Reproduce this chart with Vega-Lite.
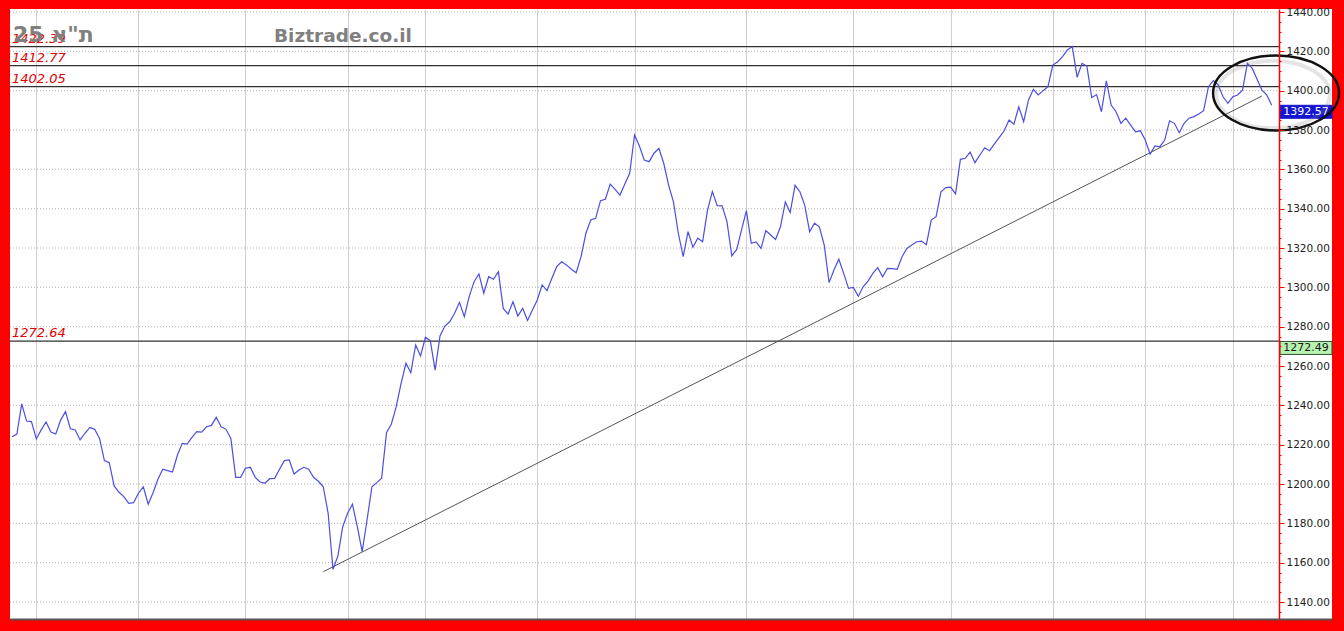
{
  "$schema": "https://vega.github.io/schema/vega-lite/v6.json",
  "width": 1322,
  "height": 610,
  "autosize": {"type": "none"},
  "padding": {"left": 10, "top": 9, "right": 12, "bottom": 12},
  "background": "#ff0000",
  "config": {"view": {"fill": "white", "stroke": null}, "font": "DejaVu Sans"},
  "resolve": {"axis": {"x": "independent", "y": "independent"}},
  "datasets": {
    "price": [
      {"i":0,"v":1224.0},{"i":1,"v":1225.4},{"i":2,"v":1240.7},{"i":3,"v":1232.0},{"i":4,"v":1231.7},{"i":5,"v":1222.9},{"i":6,"v":1227.5},{"i":7,"v":1231.5},{"i":8,"v":1226.4},{"i":9,"v":1225.4},
      {"i":10,"v":1232.5},{"i":11,"v":1236.8},{"i":12,"v":1228.1},{"i":13,"v":1227.5},{"i":14,"v":1222.4},{"i":15,"v":1225.8},{"i":16,"v":1228.8},{"i":17,"v":1227.8},{"i":18,"v":1223.2},{"i":19,"v":1211.9},
      {"i":20,"v":1210.9},{"i":21,"v":1199.0},{"i":22,"v":1195.8},{"i":23,"v":1193.6},{"i":24,"v":1190.2},{"i":25,"v":1190.5},{"i":26,"v":1195.3},{"i":27,"v":1198.6},{"i":28,"v":1189.7},{"i":29,"v":1195.6},
      {"i":30,"v":1202.4},{"i":31,"v":1207.5},{"i":32,"v":1206.8},{"i":33,"v":1206.1},{"i":34,"v":1214.6},{"i":35,"v":1220.7},{"i":36,"v":1220.3},{"i":37,"v":1223.7},{"i":38,"v":1226.6},{"i":39,"v":1226.4},
      {"i":40,"v":1229.1},{"i":41,"v":1229.8},{"i":42,"v":1233.9},{"i":43,"v":1229.1},{"i":44,"v":1227.8},{"i":45,"v":1223.2},{"i":46,"v":1203.4},{"i":47,"v":1203.4},{"i":48,"v":1208.0},{"i":49,"v":1208.5},
      {"i":50,"v":1203.4},{"i":51,"v":1201.0},{"i":52,"v":1200.4},{"i":53,"v":1202.7},{"i":54,"v":1202.9},{"i":55,"v":1207.5},{"i":56,"v":1211.9},{"i":57,"v":1212.2},{"i":58,"v":1205.1},{"i":59,"v":1207.1},
      {"i":60,"v":1208.5},{"i":61,"v":1207.5},{"i":62,"v":1203.4},{"i":63,"v":1201.4},{"i":64,"v":1198.6},{"i":65,"v":1185.1},{"i":66,"v":1156.6},{"i":67,"v":1163.4},{"i":68,"v":1178.3},{"i":69,"v":1185.1},
      {"i":70,"v":1189.7},{"i":71,"v":1178.3},{"i":72,"v":1165.6},{"i":73,"v":1181.7},{"i":74,"v":1198.6},{"i":75,"v":1200.7},{"i":76,"v":1202.9},{"i":77,"v":1226.1},{"i":78,"v":1230.5},{"i":79,"v":1239.3},
      {"i":80,"v":1251.2},{"i":81,"v":1261.4},{"i":82,"v":1256.6},{"i":83,"v":1270.7},{"i":84,"v":1265.1},{"i":85,"v":1274.6},{"i":86,"v":1272.9},{"i":87,"v":1257.9},{"i":88,"v":1275.3},{"i":89,"v":1280.3},
      {"i":90,"v":1282.5},{"i":91,"v":1286.8},{"i":92,"v":1292.4},{"i":93,"v":1285.1},{"i":94,"v":1295.3},{"i":95,"v":1302.9},{"i":96,"v":1306.8},{"i":97,"v":1297.0},{"i":98,"v":1305.4},{"i":99,"v":1304.1},
      {"i":100,"v":1308.0},{"i":101,"v":1289.3},{"i":102,"v":1286.4},{"i":103,"v":1292.7},{"i":104,"v":1285.4},{"i":105,"v":1289.3},{"i":106,"v":1283.1},{"i":107,"v":1288.5},{"i":108,"v":1293.6},{"i":109,"v":1301.2},
      {"i":110,"v":1298.3},{"i":111,"v":1304.6},{"i":112,"v":1310.5},{"i":113,"v":1313.0},{"i":114,"v":1311.4},{"i":115,"v":1309.2},{"i":116,"v":1307.4},{"i":117,"v":1315.6},{"i":118,"v":1327.5},{"i":119,"v":1334.3},
      {"i":120,"v":1335.1},{"i":121,"v":1344.1},{"i":122,"v":1344.8},{"i":123,"v":1352.5},{"i":124,"v":1349.8},{"i":125,"v":1346.9},{"i":126,"v":1352.5},{"i":127,"v":1358.0},{"i":128,"v":1377.5},{"i":129,"v":1371.9},
      {"i":130,"v":1364.7},{"i":131,"v":1363.9},{"i":132,"v":1368.2},{"i":133,"v":1370.7},{"i":134,"v":1363.1},{"i":135,"v":1352.0},{"i":136,"v":1343.5},{"i":137,"v":1327.5},{"i":138,"v":1315.6},{"i":139,"v":1328.3},
      {"i":140,"v":1320.4},{"i":141,"v":1325.0},{"i":142,"v":1323.2},{"i":143,"v":1339.3},{"i":144,"v":1348.7},{"i":145,"v":1341.5},{"i":146,"v":1341.4},{"i":147,"v":1333.4},{"i":148,"v":1316.0},{"i":149,"v":1319.3},
      {"i":150,"v":1329.2},{"i":151,"v":1339.0},{"i":152,"v":1322.4},{"i":153,"v":1323.1},{"i":154,"v":1319.8},{"i":155,"v":1328.8},{"i":156,"v":1326.6},{"i":157,"v":1324.4},{"i":158,"v":1330.8},{"i":159,"v":1343.4},
      {"i":160,"v":1338.0},{"i":161,"v":1351.9},{"i":162,"v":1348.6},{"i":163,"v":1341.7},{"i":164,"v":1328.3},{"i":165,"v":1332.6},{"i":166,"v":1330.8},{"i":167,"v":1321.5},{"i":168,"v":1302.4},{"i":169,"v":1308.8},
      {"i":170,"v":1314.3},{"i":171,"v":1307.1},{"i":172,"v":1299.5},{"i":173,"v":1300.0},{"i":174,"v":1295.5},{"i":175,"v":1300.3},{"i":176,"v":1303.2},{"i":177,"v":1307.1},{"i":178,"v":1310.0},{"i":179,"v":1305.4},
      {"i":180,"v":1309.6},{"i":181,"v":1309.5},{"i":182,"v":1309.2},{"i":183,"v":1315.6},{"i":184,"v":1319.8},{"i":185,"v":1321.5},{"i":186,"v":1323.2},{"i":187,"v":1323.5},{"i":188,"v":1321.7},{"i":189,"v":1334.2},
      {"i":190,"v":1335.9},{"i":191,"v":1348.6},{"i":192,"v":1350.7},{"i":193,"v":1350.9},{"i":194,"v":1347.5},{"i":195,"v":1365.1},{"i":196,"v":1365.6},{"i":197,"v":1368.7},{"i":198,"v":1363.4},{"i":199,"v":1367.3},
      {"i":200,"v":1371.0},{"i":201,"v":1369.5},{"i":202,"v":1372.9},{"i":203,"v":1376.3},{"i":204,"v":1379.6},{"i":205,"v":1385.1},{"i":206,"v":1383.0},{"i":207,"v":1391.8},{"i":208,"v":1384.2},{"i":209,"v":1395.3},
      {"i":210,"v":1400.7},{"i":211,"v":1397.8},{"i":212,"v":1400.0},{"i":213,"v":1402.0},{"i":214,"v":1413.0},{"i":215,"v":1414.7},{"i":216,"v":1417.3},{"i":217,"v":1420.7},{"i":218,"v":1422.4},{"i":219,"v":1406.8},
      {"i":220,"v":1413.9},{"i":221,"v":1412.5},{"i":222,"v":1396.5},{"i":223,"v":1398.0},{"i":224,"v":1389.3},{"i":225,"v":1405.0},{"i":226,"v":1392.7},{"i":227,"v":1389.3},{"i":228,"v":1383.4},{"i":229,"v":1386.0},
      {"i":230,"v":1382.5},{"i":231,"v":1379.1},{"i":232,"v":1379.6},{"i":233,"v":1374.9},{"i":234,"v":1367.8},{"i":235,"v":1371.9},{"i":236,"v":1371.5},{"i":237,"v":1374.9},{"i":238,"v":1384.7},{"i":239,"v":1383.4},
      {"i":240,"v":1378.6},{"i":241,"v":1383.4},{"i":242,"v":1386.0},{"i":243,"v":1386.8},{"i":244,"v":1388.1},{"i":245,"v":1389.8},{"i":246,"v":1402.0},{"i":247,"v":1405.1},{"i":248,"v":1402.9},{"i":249,"v":1396.9},
      {"i":250,"v":1393.6},{"i":251,"v":1396.9},{"i":252,"v":1397.8},{"i":253,"v":1400.3},{"i":254,"v":1413.9},{"i":255,"v":1411.3},{"i":256,"v":1405.8},{"i":257,"v":1400.3},{"i":258,"v":1397.8},{"i":259,"v":1392.57}
    ],
    "grid": [
      {"v":1140},{"v":1160},{"v":1180},{"v":1200},{"v":1220},{"v":1240},{"v":1260},{"v":1280},
      {"v":1300},{"v":1320},{"v":1340},{"v":1360},{"v":1380},{"v":1400},{"v":1420},{"v":1440}
    ],
    "levels": [
      {"v":1422.39,"label":"1422.39"},
      {"v":1412.77,"label":"1412.77"},
      {"v":1402.05,"label":"1402.05"},
      {"v":1272.64,"label":"1272.64"}
    ],
    "trend": [
      {"i":64,"v":1155.4},
      {"i":257,"v":1397.3}
    ],
    "boxes": [
      {"v":1392.57,"label":"1392.57","kind":"last"},
      {"v":1272.49,"label":"1272.49","kind":"ref"}
    ]
  },
  "layer": [
    {
      "data": {"name": "grid"},
      "mark": {"type": "rule", "color": "#b4b4b4", "strokeWidth": 1, "strokeDash": [1, 2]},
      "encoding": {
        "x": {"datum": -0.411, "type": "quantitative", "axis": null, "scale": {"domain": [-0.411, 271.4], "nice": false, "zero": false}},
        "x2": {"datum": 260.5},
        "y": {"field": "v", "type": "quantitative", "axis": null, "scale": {"domain": [1131.36, 1441.53], "nice": false, "zero": false}}
      }
    },
    {
      "data": {"name": "levels"},
      "mark": {"type": "rule", "color": "#303030", "strokeWidth": 1.2},
      "encoding": {
        "x": {"datum": -0.411, "type": "quantitative", "axis": null},
        "x2": {"datum": 260.5},
        "y": {"field": "v", "type": "quantitative", "axis": null}
      }
    },
    {
      "data": {"name": "trend"},
      "mark": {"type": "line", "color": "#555555", "strokeWidth": 1},
      "encoding": {
        "x": {"field": "i", "type": "quantitative", "axis": null},
        "y": {"field": "v", "type": "quantitative", "axis": null}
      }
    },
    {
      "data": {"name": "price"},
      "mark": {"type": "line", "color": "#4d4de4", "strokeWidth": 1.2},
      "encoding": {
        "x": {
          "field": "i", "type": "quantitative", "title": null,
          "scale": {"domain": [-0.411, 271.4], "nice": false, "zero": false},
          "axis": {
            "orient": "bottom", "title": null,
            "values": [5, 26, 48, 69, 85, 108, 128, 151, 173, 193, 214, 233, 251],
            "grid": true, "gridColor": "#cfcfcf", "gridWidth": 1,
            "labels": false, "ticks": false,
            "domain": true, "domainColor": "#555555", "domainWidth": 2
          }
        },
        "y": {
          "field": "v", "type": "quantitative", "title": null,
          "scale": {"domain": [1131.36, 1441.53], "nice": false, "zero": false},
          "axis": {
            "orient": "right", "offset": -53, "title": null, "grid": false,
            "values": [1135,1140,1145,1150,1155,1160,1165,1170,1175,1180,1185,1190,1195,1200,1205,1210,1215,1220,1225,1230,1235,1240,1245,1250,1255,1260,1265,1270,1275,1280,1285,1290,1295,1300,1305,1310,1315,1320,1325,1330,1335,1340,1345,1350,1355,1360,1365,1370,1375,1380,1385,1390,1395,1400,1405,1410,1415,1420,1425,1430,1435,1440],
            "domainColor": "#ff0000", "domainWidth": 1.5,
            "tickColor": "#ff0000", "tickWidth": 1,
            "tickSize": {"condition": {"test": "datum.value % 20 === 0", "value": 5}, "value": 2},
            "labelExpr": "datum.value % 20 === 0 ? format(datum.value, '.2f') : ''",
            "labelFont": "DejaVu Sans", "labelFontSize": 10.5, "labelColor": "#222222",
            "labelPadding": 2, "labelOverlap": false, "labelFlush": false,
            "labelBaseline": "middle", "zindex": 1
          }
        }
      }
    },
    {
      "data": {"name": "levels"},
      "mark": {"type": "text", "align": "left", "baseline": "alphabetic", "dy": -4, "fontSize": 13, "fontStyle": "italic", "color": "#e00000", "font": "DejaVu Sans"},
      "encoding": {
        "x": {"datum": 0, "type": "quantitative", "axis": null},
        "y": {"field": "v", "type": "quantitative", "axis": null},
        "text": {"field": "label"}
      }
    },
    {
      "data": {"values": [{"t": "ת\"א 25"}]},
      "mark": {"type": "text", "align": "left", "baseline": "alphabetic", "fontSize": 22, "fontWeight": "bold", "color": "#808080", "font": "DejaVu Sans"},
      "encoding": {
        "x": {"datum": 0.2, "type": "quantitative", "axis": null},
        "y": {"datum": 1424.75, "type": "quantitative", "axis": null},
        "text": {"field": "t"}
      }
    },
    {
      "data": {"values": [{"t": "Biztrade.co.il"}]},
      "mark": {"type": "text", "align": "left", "baseline": "alphabetic", "fontSize": 18.5, "fontWeight": "bold", "color": "#808080", "font": "DejaVu Sans"},
      "encoding": {
        "x": {"datum": 53.87, "type": "quantitative", "axis": null},
        "y": {"datum": 1424.75, "type": "quantitative", "axis": null},
        "text": {"field": "t"}
      }
    },
    {
      "data": {"name": "boxes"},
      "mark": {"type": "point", "shape": "M -1 0 L 1 0 L 1 0.5 L -1 0.5 Z", "size": 2704, "filled": true, "opacity": 1, "strokeWidth": 1},
      "encoding": {
        "x": {"datum": 266.05, "type": "quantitative", "axis": null},
        "y": {"field": "v", "type": "quantitative", "axis": null},
        "fill": {"field": "kind", "type": "nominal", "scale": {"domain": ["last", "ref"], "range": ["#1414d2", "#b6f2b0"]}, "legend": null},
        "stroke": {"field": "kind", "type": "nominal", "scale": {"domain": ["last", "ref"], "range": ["#1414d2", "#2f4f2f"]}, "legend": null}
      }
    },
    {
      "data": {"name": "boxes"},
      "mark": {"type": "text", "align": "center", "baseline": "middle", "dy": 7, "fontSize": 11, "font": "DejaVu Sans"},
      "encoding": {
        "x": {"datum": 266.05, "type": "quantitative", "axis": null},
        "y": {"field": "v", "type": "quantitative", "axis": null},
        "text": {"field": "label"},
        "color": {"field": "kind", "type": "nominal", "scale": {"domain": ["last", "ref"], "range": ["#ffffff", "#1a1a1a"]}, "legend": null}
      }
    },
    {
      "data": {"values": [{}]},
      "mark": {"type": "point", "shape": "M -1 0 C -1 -0.3286 -0.5523 -0.595 0 -0.595 C 0.5523 -0.595 1 -0.3286 1 0 C 1 0.3286 0.5523 0.595 0 0.595 C -0.5523 0.595 -1 0.3286 -1 0 Z", "size": 12860, "filled": false, "stroke": "#8a8a8a", "strokeWidth": 4, "opacity": 0.22},
      "encoding": {
        "x": {"datum": 259.27, "type": "quantitative", "axis": null},
        "y": {"datum": 1398.06, "type": "quantitative", "axis": null}
      }
    },
    {
      "data": {"values": [{}]},
      "mark": {"type": "point", "shape": "M -1 0 C -1 -0.3286 -0.5523 -0.595 0 -0.595 C 0.5523 -0.595 1 -0.3286 1 0 C 1 0.3286 0.5523 0.595 0 0.595 C -0.5523 0.595 -1 0.3286 -1 0 Z", "size": 15876, "filled": false, "stroke": "#111111", "strokeWidth": 2.5, "opacity": 1},
      "encoding": {
        "x": {"datum": 259.9, "type": "quantitative", "axis": null},
        "y": {"datum": 1398.8, "type": "quantitative", "axis": null}
      }
    }
  ]
}
